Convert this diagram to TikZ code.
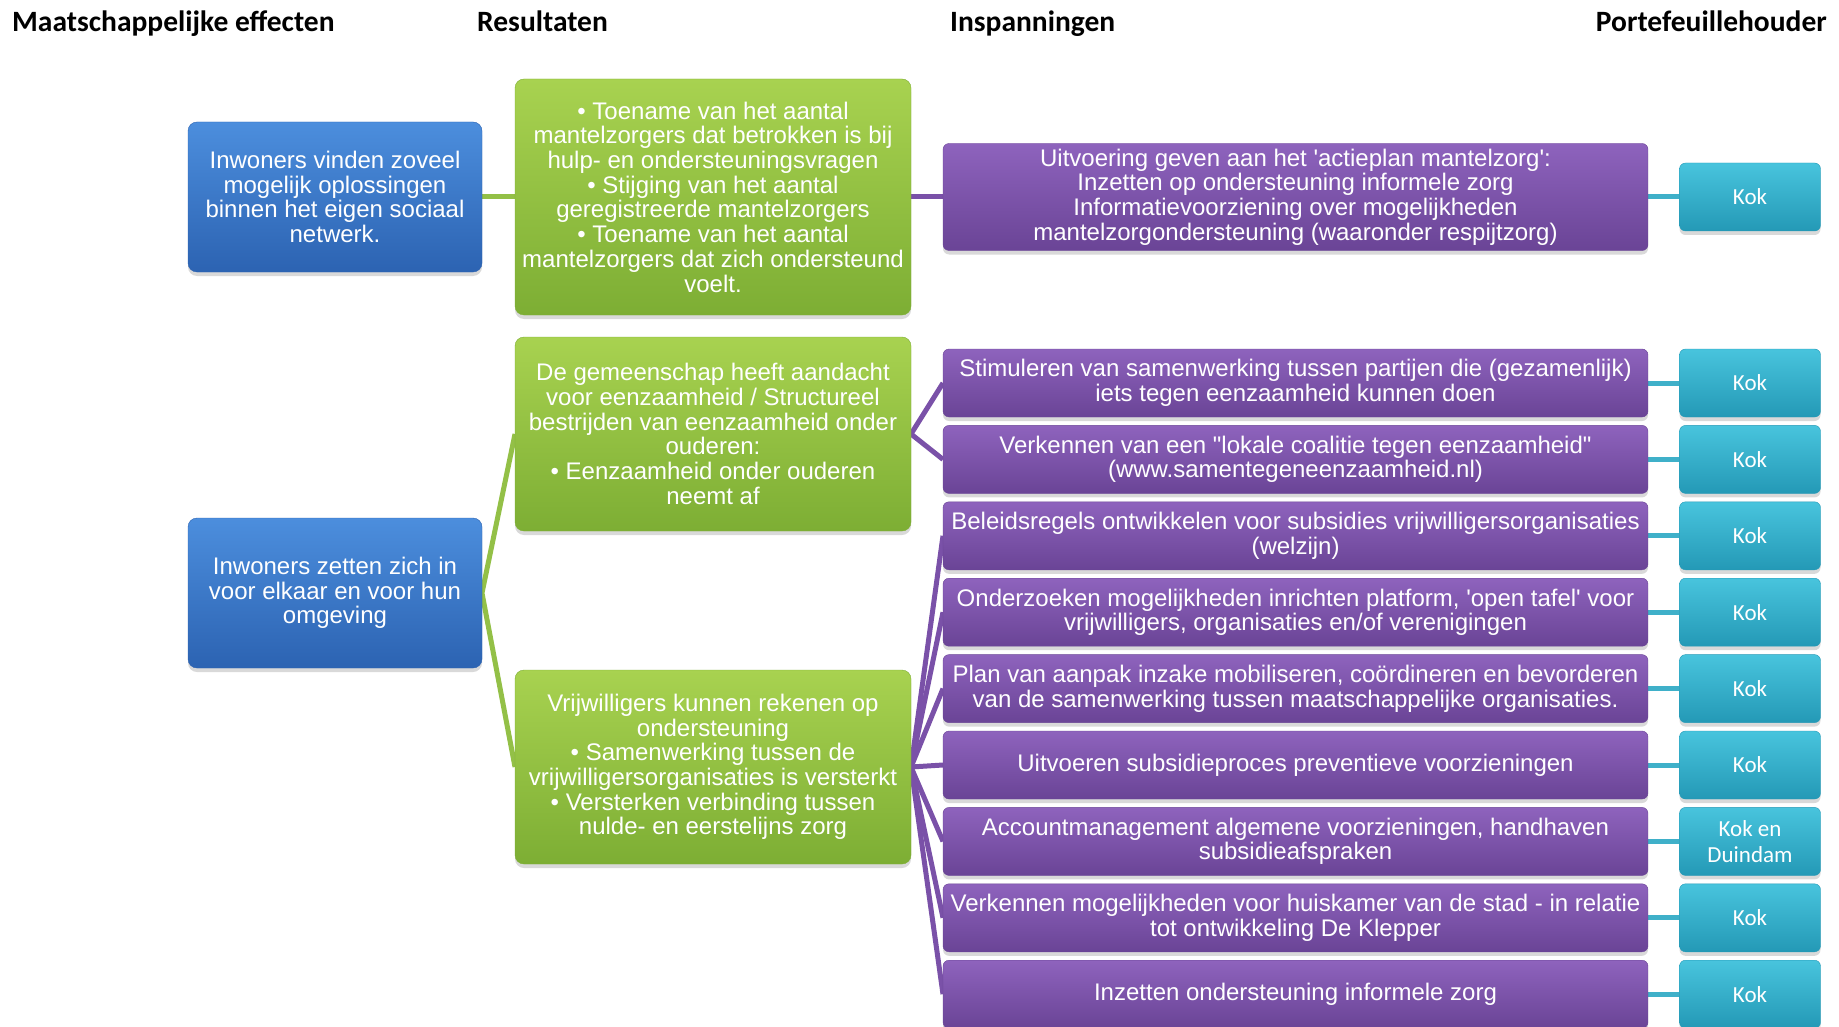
\documentclass[tikz,border=0pt]{standalone}
\usepackage{fontspec}
\setmainfont{Liberation Sans}[Ligatures=TeXOff]
\newfontfamily\headfont{Carlito}
\usetikzlibrary{shadows}

\definecolor{effectTop}{HTML}{4C8EDD}
\definecolor{effectBot}{HTML}{2C63B2}
\definecolor{resultTop}{HTML}{A8D250}
\definecolor{resultBot}{HTML}{7DAE34}
\definecolor{effortTop}{HTML}{8E63BD}
\definecolor{effortBot}{HTML}{6A4496}
\definecolor{ownerTop}{HTML}{48C4DD}
\definecolor{ownerBot}{HTML}{2499B6}
\definecolor{resultLine}{HTML}{93C047}
\definecolor{effortLine}{HTML}{7A51A8}
\definecolor{ownerLine}{HTML}{3FB0C9}

\begin{document}
\begin{tikzpicture}
  [x=1pt, y=-1pt,
   heading/.style={font=\headfont\bfseries\fontsize{29.5}{34}\selectfont, inner sep=0pt},
   box/.style={rounded corners=9pt, align=center, text=white, inner sep=0pt,
     font=\fontsize{24}{24.7}\selectfont,
     drop shadow={opacity=0.3, shadow xshift=0pt, shadow yshift=-4pt}},
   effect box/.style={box, top color=effectTop, bottom color=effectBot,
     draw=effectBot, minimum width=294pt, minimum height=150pt},
   result box/.style={box, top color=resultTop, bottom color=resultBot,
     draw=resultBot, minimum width=396pt},
   effort box/.style={box, rounded corners=6pt, top color=effortTop,
     bottom color=effortBot, draw=effortBot, minimum width=705pt, minimum height=68pt},
   owner box/.style={box, rounded corners=6pt, top color=ownerTop,
     bottom color=ownerBot, draw=ownerBot, minimum width=141pt, minimum height=68pt,
     font=\headfont\fontsize{23}{25.5}\selectfont},
   result link/.style={draw=resultLine, line width=5pt},
   effort link/.style={draw=effortLine, line width=5pt},
   owner link/.style={draw=ownerLine, line width=5pt}]
  \useasboundingbox (0,0) rectangle (1839,1027);

  % column headings
  \node[heading, anchor=base west] (h effect) at (12,32) {Maatschappelijke effecten};
  \node[heading, anchor=base west] (h result) at (477,32) {Resultaten};
  \node[heading, anchor=base west] (h effort) at (950,32) {Inspanningen};
  \node[heading, anchor=base east] (h owner) at (1827,32) {Portefeuillehouder};

  % connectors first, boxes on top
  \coordinate (e1) at (482,197);  \coordinate (r1w) at (515,197);
  \coordinate (r1e) at (911,197); \coordinate (a0w) at (943,197);
  \coordinate (a0e) at (1648,197); \coordinate (o0w) at (1679,197);
  \coordinate (e2) at (482,593);
  \coordinate (r2w) at (515,434); \coordinate (r2e) at (911,434);
  \coordinate (r3w) at (515,767); \coordinate (r3e) at (911,767);
  \draw[result link] (e1) -- (r1w);
  \draw[effort link] (r1e) -- (a0w);
  \draw[owner link] (a0e) -- (o0w);
  \draw[result link] (r2w) -- (e2) -- (r3w);
  \foreach \k in {1,...,9}
  {
    \coordinate (a\k w) at (943,{383+76.4*(\k-1)});
    \coordinate (a\k e) at (1648,{383+76.4*(\k-1)});
    \coordinate (o\k w) at (1679,{383+76.4*(\k-1)});
    \draw[owner link] (a\k e) -- (o\k w);
  }
  \foreach \k in {1,2}
    \draw[effort link] (r2e) -- (a\k w);
  \foreach \k in {3,...,9}
    \draw[effort link] (r3e) -- (a\k w);

  % effects
  \node[effect box] (eff1) at (335,197)
    {Inwoners vinden zoveel\\mogelijk oplossingen\\binnen het eigen sociaal\\netwerk.};
  \node[effect box] (eff2) at (335,593)
    {Inwoners zetten zich in\\voor elkaar en voor hun\\omgeving};

  % results
  \node[result box, minimum height=236pt] (res1) at (713,197)
    {• Toename van het aantal\\mantelzorgers dat betrokken is bij\\hulp- en ondersteuningsvragen\\
     • Stijging van het aantal\\geregistreerde mantelzorgers\\• Toename van het aantal\\
     mantelzorgers dat zich ondersteund\\voelt.};
  \node[result box, minimum height=194pt] (res2) at (713,434)
    {De gemeenschap heeft aandacht\\voor eenzaamheid / Structureel\\
     bestrijden van eenzaamheid onder\\ouderen:\\• Eenzaamheid onder ouderen\\neemt af};
  \node[result box, minimum height=194pt] (res3) at (713,767)
    {Vrijwilligers kunnen rekenen op\\ondersteuning\\• Samenwerking tussen de\\
     vrijwilligersorganisaties is versterkt\\• Versterken verbinding tussen\\
     nulde- en eerstelijns zorg};

  % efforts and owners
  \node[effort box, minimum height=107pt] (act0) at (1295.5,197)
    {Uitvoering geven aan het 'actieplan mantelzorg':\\Inzetten op ondersteuning informele zorg\\
     Informatievoorziening over mogelijkheden\\mantelzorgondersteuning (waaronder respijtzorg)};
  \node[owner box] (own0) at (1750,197) {Kok};
  \foreach \k/\txt/\who in {
    1/{Stimuleren van samenwerking tussen partijen die (gezamenlijk)\\iets tegen eenzaamheid kunnen doen}/Kok,
    2/{Verkennen van een "lokale coalitie tegen eenzaamheid"\\(www.samentegeneenzaamheid.nl)}/Kok,
    3/{Beleidsregels ontwikkelen voor subsidies vrijwilligersorganisaties\\(welzijn)}/Kok,
    4/{Onderzoeken mogelijkheden inrichten platform, 'open tafel' voor\\vrijwilligers, organisaties en/of verenigingen}/Kok,
    5/{Plan van aanpak inzake mobiliseren, coördineren en bevorderen\\van de samenwerking tussen maatschappelijke organisaties.}/Kok,
    6/{Uitvoeren subsidieproces preventieve voorzieningen}/Kok,
    7/{Accountmanagement algemene voorzieningen, handhaven\\subsidieafspraken}/{Kok en\\Duindam},
    8/{Verkennen mogelijkheden voor huiskamer van de stad - in relatie\\tot ontwikkeling De Klepper}/Kok,
    9/{Inzetten ondersteuning informele zorg}/Kok}
  {
    \node[effort box] (act\k) at (1295.5,{383+76.4*(\k-1)}) {\txt};
    \node[owner box] (own\k) at (1750,{383+76.4*(\k-1)}) {\who};
  }
\end{tikzpicture}
\end{document}
